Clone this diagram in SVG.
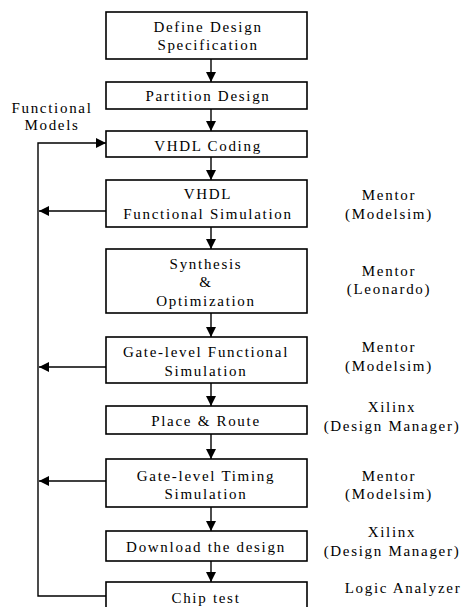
<svg xmlns="http://www.w3.org/2000/svg" width="463" height="607" viewBox="0 0 463 607">
  <style>
    .box { fill: #fff; stroke: #000; stroke-width: 1.6; }
    .t { font-family: "Liberation Serif", "Times New Roman", serif; font-size: 15px; fill: #000; text-anchor: middle; letter-spacing: 1.7px; }
    .ln { fill: none; stroke: #000; stroke-width: 1.4; }
  </style>
  <defs>
    <marker id="ah" viewBox="0 0 10 10" refX="10" refY="5" markerWidth="10" markerHeight="10" markerUnits="userSpaceOnUse" orient="auto">
      <path d="M0,0 L10,5 L0,10 Z" fill="#000"/>
    </marker>
  </defs>
  <rect width="463" height="607" fill="#fff"/>

  <!-- flow steps -->
  <g id="n-spec"><rect class="box" x="106" y="12" width="201" height="47"/><text class="t" x="208" y="32">Define Design</text><text class="t" x="208" y="50">Specification</text></g>
  <g id="n-partition"><rect class="box" x="106" y="82" width="201" height="27"/><text class="t" x="208" y="101">Partition Design</text></g>
  <g id="n-coding"><rect class="box" x="106" y="131" width="201" height="26"/><text class="t" x="208" y="151">VHDL Coding</text></g>
  <g id="n-funcsim"><rect class="box" x="106" y="180" width="201" height="47"/><text class="t" x="208" y="199">VHDL</text><text class="t" x="208" y="219">Functional Simulation</text></g>
  <g id="n-synth"><rect class="box" x="106" y="249" width="201" height="64"/><text class="t" x="206" y="269">Synthesis</text><text class="t" x="206" y="287">&amp;</text><text class="t" x="206" y="306">Optimization</text></g>
  <g id="n-gatefunc"><rect class="box" x="106" y="337" width="201" height="46"/><text class="t" x="206" y="357">Gate-level Functional</text><text class="t" x="206" y="376">Simulation</text></g>
  <g id="n-par"><rect class="box" x="106" y="406" width="201" height="28"/><text class="t" x="206" y="426">Place &amp; Route</text></g>
  <g id="n-timing"><rect class="box" x="106" y="459" width="201" height="48"/><text class="t" x="206" y="481">Gate-level Timing</text><text class="t" x="206" y="499">Simulation</text></g>
  <g id="n-download"><rect class="box" x="106" y="531" width="201" height="30"/><text class="t" x="206" y="552">Download the design</text></g>
  <g id="n-chiptest"><rect class="box" x="106" y="582" width="201" height="40"/><text class="t" x="206" y="603">Chip test</text></g>

  <!-- tool annotations -->
  <g id="tools">
    <text class="t" x="389" y="200">Mentor</text><text class="t" x="389" y="219">(Modelsim)</text>
    <text class="t" x="389" y="276">Mentor</text><text class="t" x="389" y="294">(Leonardo)</text>
    <text class="t" x="389" y="352">Mentor</text><text class="t" x="389" y="371">(Modelsim)</text>
    <text class="t" x="392" y="412">Xilinx</text><text class="t" x="392" y="431">(Design Manager)</text>
    <text class="t" x="389" y="481">Mentor</text><text class="t" x="389" y="499">(Modelsim)</text>
    <text class="t" x="392" y="537">Xilinx</text><text class="t" x="392" y="556">(Design Manager)</text>
    <text class="t" x="403" y="593">Logic Analyzer</text>
  </g>

  <g id="label-models">
    <text class="t" x="52" y="113">Functional</text>
    <text class="t" x="52" y="130">Models</text>
  </g>

  <!-- connectors -->
  <g id="connectors">
    <line class="ln" x1="211" y1="59" x2="211" y2="82" marker-end="url(#ah)"/>
    <line class="ln" x1="211" y1="109" x2="211" y2="131" marker-end="url(#ah)"/>
    <line class="ln" x1="211" y1="157" x2="211" y2="180" marker-end="url(#ah)"/>
    <line class="ln" x1="211" y1="227" x2="211" y2="249" marker-end="url(#ah)"/>
    <line class="ln" x1="211" y1="313" x2="211" y2="337" marker-end="url(#ah)"/>
    <line class="ln" x1="211" y1="383" x2="211" y2="406" marker-end="url(#ah)"/>
    <line class="ln" x1="211" y1="434" x2="211" y2="459" marker-end="url(#ah)"/>
    <line class="ln" x1="211" y1="507" x2="211" y2="531" marker-end="url(#ah)"/>
    <line class="ln" x1="211" y1="561" x2="211" y2="582" marker-end="url(#ah)"/>
    <!-- feedback loop -->
    <polyline class="ln" points="106,596 38,596 38,143 106,143" marker-end="url(#ah)"/>
    <line class="ln" x1="106" y1="211" x2="39" y2="211" marker-end="url(#ah)"/>
    <line class="ln" x1="106" y1="367" x2="39" y2="367" marker-end="url(#ah)"/>
    <line class="ln" x1="106" y1="481" x2="39" y2="481" marker-end="url(#ah)"/>
  </g>
</svg>
